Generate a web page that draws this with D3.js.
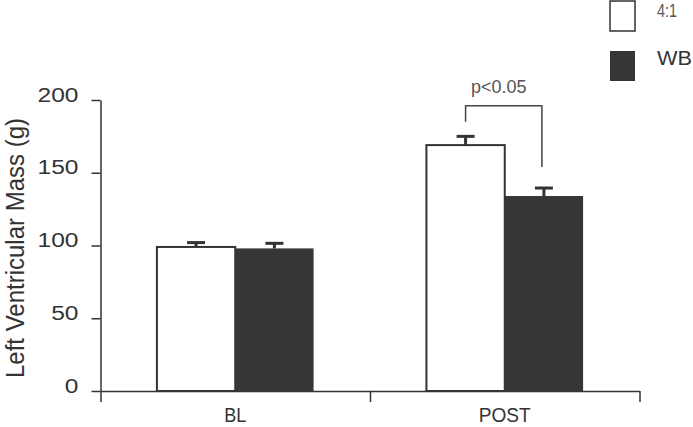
<!DOCTYPE html>
<html>
<head>
<meta charset="utf-8">
<script src="https://cdn.jsdelivr.net/npm/d3@7"></script>
<style>
  body { margin: 0; background: #fff; }
  svg { display: block; font-family: "Liberation Sans", Arial, sans-serif; }
</style>
</head>
<body>
<svg width="693" height="427"></svg>
<script>
// chart values
var categories = ["BL", "POST"];
var series = ["4:1", "WB"];
var values41 = [99, 169];
var valuesWB = [98, 134];
var err41 = [3, 6];
var errWB = [3.5, 5.5];
var yTicks = [0, 50, 100, 150, 200];
var sigLabel = "p<0.05";
var sigLevels = [196, 185, 154]; // bracket top, left leg end, right leg end (g)

var svg = d3.select("svg"),
    width = +svg.attr("width"),
    height = +svg.attr("height");

var ink = "#333";

var x = d3.scaleBand()
    .domain(categories)
    .range([100.5, 639.5])
    .padding(0);

var x1 = d3.scaleBand()
    .domain(series)
    .range([0, x.bandwidth()])
    .paddingInner(0)
    .paddingOuter(0.72);

var y = d3.scaleLinear()
    .domain([0, 200])
    .range([391, 100]);

var fills = { "4:1": "#fff", "WB": "#363636" };

// rows for bars
var rows = [];
categories.forEach(function (c, i) {
  rows.push({ cat: c, s: "4:1", v: values41[i], e: err41[i] });
  rows.push({ cat: c, s: "WB", v: valuesWB[i], e: errWB[i] });
});

// y axis
var yAxis = svg.append("g")
    .attr("transform", "translate(" + x.range()[0] + ",0)")
    .call(d3.axisLeft(y).tickValues(yTicks).tickSize(9).tickSizeOuter(0));
yAxis.select(".domain").attr("stroke", ink).attr("stroke-width", 1.5);
yAxis.selectAll(".tick line").attr("stroke", ink).attr("stroke-width", 1.5);
// the digits in the figure are drawn wide, so stretch them sideways
var stretch = 1.17;
yAxis.selectAll(".tick text")
    .attr("fill", "#333")
    .attr("font-size", 21)
    .attr("x", -22 / stretch)
    .attr("dy", "0.05em")
    .attr("transform", "scale(" + stretch + ",1)");

svg.append("text")
    .attr("transform", "translate(24," + (y(100) + 2.5) + ") rotate(-90) scale(1,1.1)")
    .attr("text-anchor", "middle")
    .attr("font-size", 24)
    .attr("fill", "#333")
    .text("Left Ventricular Mass (g)");

// x axis: ticks at band edges
var xEdge = d3.scaleLinear().domain([0, categories.length]).range(x.range());
var xAxis = svg.append("g")
    .attr("transform", "translate(0," + y(0) + ")")
    .call(d3.axisBottom(xEdge).tickValues(d3.range(categories.length + 1))
      .tickFormat("").tickSize(11).tickSizeOuter(0));
xAxis.select(".domain").attr("stroke", ink).attr("stroke-width", 1.5);
xAxis.selectAll(".tick line").attr("stroke", ink).attr("stroke-width", 1.5);

var xLabels = svg.append("g")
    .attr("transform", "translate(0," + y(0) + ")")
    .call(d3.axisBottom(x).tickSize(0));
xLabels.select(".domain").remove();
xLabels.selectAll(".tick text")
    .attr("fill", "#333")
    .attr("font-size", 21)
    .attr("y", 31)
    .attr("dy", 0)
    .attr("lengthAdjust", "spacingAndGlyphs")
    .attr("textLength", function (d) { return d == "BL" ? 22 : 52; });

// bars
svg.append("g")
  .selectAll("rect")
  .data(rows)
  .enter().append("rect")
    .attr("x", function (d) { return x(d.cat) + x1(d.s); })
    .attr("y", function (d) { return y(d.v); })
    .attr("width", x1.bandwidth())
    .attr("height", function (d) { return y(0) - y(d.v); })
    .attr("fill", function (d) { return fills[d.s]; })
    .attr("stroke", ink)
    .attr("stroke-width", function (d) { return d.s == "4:1" ? 2 : 0; });

// error bars (upper only)
var errs = svg.append("g").attr("stroke", ink).attr("stroke-width", 3);
errs.selectAll("line.stem")
  .data(rows)
  .enter().append("line")
    .attr("class", "stem")
    .attr("x1", function (d) { return x(d.cat) + x1(d.s) + x1.bandwidth() / 2; })
    .attr("x2", function (d) { return x(d.cat) + x1(d.s) + x1.bandwidth() / 2; })
    .attr("y1", function (d) { return y(d.v); })
    .attr("y2", function (d) { return y(d.v + d.e); });
errs.selectAll("line.cap")
  .data(rows)
  .enter().append("line")
    .attr("class", "cap")
    .attr("x1", function (d) { return x(d.cat) + x1(d.s) + x1.bandwidth() / 2 - 9; })
    .attr("x2", function (d) { return x(d.cat) + x1(d.s) + x1.bandwidth() / 2 + 9; })
    .attr("y1", function (d) { return y(d.v + d.e); })
    .attr("y2", function (d) { return y(d.v + d.e); });

// significance bracket on POST
var bx1 = x("POST") + x1("4:1") + x1.bandwidth() / 2,
    bx2 = x("POST") + x1("WB") + x1.bandwidth() / 2 - 2;
svg.append("path")
    .attr("d", "M" + bx1 + "," + y(sigLevels[1]) + "V" + y(sigLevels[0]) +
               "H" + bx2 + "V" + y(sigLevels[2]))
    .attr("fill", "none")
    .attr("stroke", "#444")
    .attr("stroke-width", 1.5);
svg.append("text")
    .attr("x", (bx1 + bx2) / 2 - 5)
    .attr("y", y(sigLevels[0]) - 13)
    .attr("text-anchor", "middle")
    .attr("font-size", 18)
    .attr("fill", "#555")
    .text(sigLabel);

// legend
var legend = svg.append("g").attr("transform", "translate(609,0)");
series.forEach(function (s, i) {
  var g = legend.append("g").attr("transform", "translate(0," + (i * 50) + ")");
  g.append("rect")
      .attr("x", 1).attr("y", 1)
      .attr("width", 25).attr("height", 30)
      .attr("fill", fills[s])
      .attr("stroke", s == "4:1" ? ink : "none")
      .attr("stroke-width", 1.5);
  g.append("text")
      .attr("x", 48).attr("y", i == 0 ? 17 : 15)
      .attr("font-size", i == 0 ? 18 : 20)
      .attr("fill", i == 0 ? "#555" : "#333")
      .attr("lengthAdjust", "spacingAndGlyphs")
      .attr("textLength", i == 0 ? 20 : 35)
      .text(s);
});
</script>
</body>
</html>
